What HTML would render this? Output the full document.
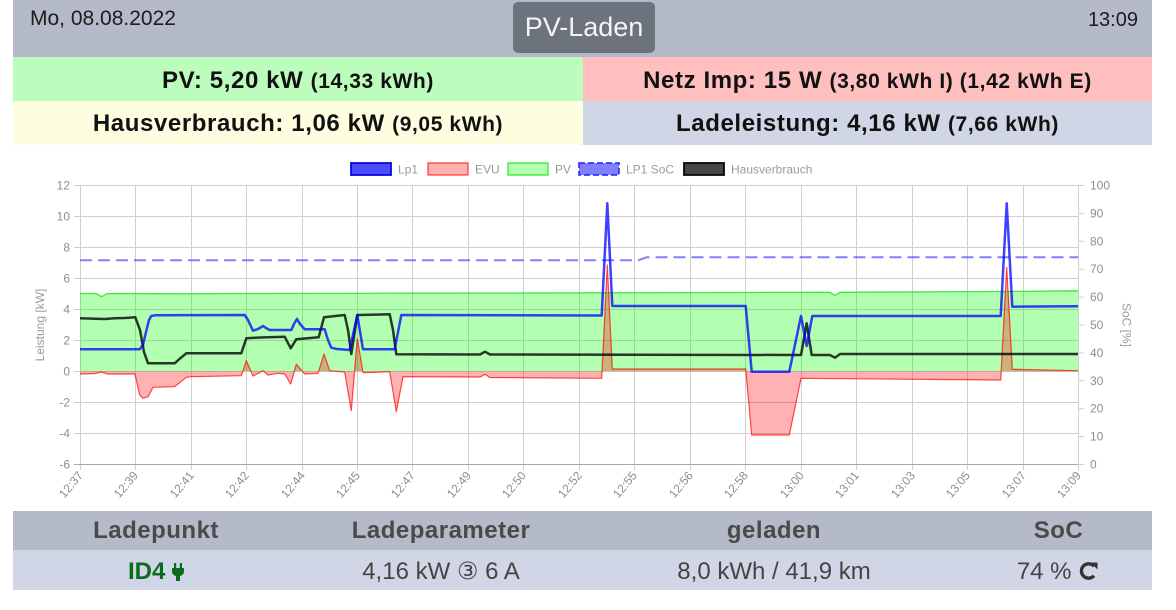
<!DOCTYPE html>
<html><head><meta charset="utf-8"><style>
*{box-sizing:border-box}
html,body{margin:0;padding:0;background:#fff}
body{width:1176px;height:610px;position:relative;overflow:hidden;font-family:"Liberation Sans","DejaVu Sans","Noto Sans CJK JP",sans-serif}
.a{position:absolute;white-space:nowrap}
.c{text-align:center}
.b{font-weight:bold;color:#111;font-size:24px;line-height:44px;letter-spacing:0.6px}
.b span{font-size:21px}
.th{font-weight:bold;color:#4a4a4a;font-size:24px;line-height:40px;letter-spacing:0.5px}
.td{color:#444;font-size:24px;line-height:40px}
</style></head><body>
<div class="a" style="left:13px;top:0;width:1139px;height:57px;background:#b5bac8"></div>
<div class="a" style="left:30px;top:5px;font-size:21px;line-height:28px;color:#1c1c1c">Mo, 08.08.2022</div>
<div class="a" style="right:38px;top:6px;font-size:20px;line-height:28px;color:#1c1c1c">13:09</div>
<div class="a c" style="left:513px;top:2px;width:142px;height:51px;line-height:51px;background:#6c737d;border-radius:5px;color:#f4f4f4;font-size:27px">PV-Laden</div>

<div class="a" style="left:13px;top:57px;width:570px;height:44px;background:#bcfcbc"></div>
<div class="a" style="left:583px;top:57px;width:569px;height:44px;background:#ffbfbf"></div>
<div class="a" style="left:13px;top:101px;width:570px;height:44px;background:#fdfde0"></div>
<div class="a" style="left:583px;top:101px;width:569px;height:44px;background:#d0d6e6"></div>
<div class="a c b" style="left:13px;top:59px;width:570px">PV: 5,20 kW <span>(14,33 kWh)</span></div>
<div class="a c b" style="left:583px;top:59px;width:569px">Netz Imp: 15 W <span>(3,80 kWh I) (1,42 kWh E)</span></div>
<div class="a c b" style="left:13px;top:102px;width:570px">Hausverbrauch: 1,06 kW <span>(9,05 kWh)</span></div>
<div class="a c b" style="left:583px;top:102px;width:569px">Ladeleistung: 4,16 kW <span>(7,66 kWh)</span></div>

<svg class="a" style="left:0;top:0" width="1176" height="610" xmlns="http://www.w3.org/2000/svg" font-family="Liberation Sans, Arial, sans-serif">
<!-- grid -->
<g stroke="#cfcfcf" stroke-width="1" fill="none">
<path d="M74,185.5H1078 M74,216.5H1078 M74,247.5H1078 M74,278.5H1078 M74,309.5H1078 M74,340.5H1078 M74,371.5H1078 M74,402.5H1078 M74,433.5H1078"/>
<path d="M80.5,185V470 M135.5,185V470 M191.5,185V470 M246.5,185V470 M302.5,185V470 M357.5,185V470 M412.5,185V470 M468.5,185V470 M523.5,185V470 M579.5,185V470 M634.5,185V470 M690.5,185V470 M745.5,185V470 M801.5,185V470 M856.5,185V470 M912.5,185V470 M967.5,185V470 M1023.5,185V470 M1078.5,185V470"/>
<path d="M1078,185.5h6 M1078,213.4h6 M1078,241.3h6 M1078,269.2h6 M1078,297.1h6 M1078,325h6 M1078,352.9h6 M1078,380.8h6 M1078,408.7h6 M1078,436.6h6 M1078,464.5h6"/>
</g>
<path d="M74,464.5H1078" stroke="#a8a8a8" stroke-width="1"/>
<!-- PV fill -->
<path d="M80,371.3 L80,293.5 96,293.5 101.7,296.7 107,293.5 180,293.8 240,293.5 420,293.2 600,292.8 745,292.5 830,292.3 835,295.5 840,292.3 1000,291.5 1078,290.8 L1078,371.3Z" fill="rgba(0,255,0,0.3)"/>
<!-- EVU fill -->
<path d="M80,371.3 L80,374 95,373.5 101.3,372 108,374 135,374 139.7,395 143,398.3 148,396.7 153,387.3 174.7,386.7 186.3,377.3 191.3,376.7 241.3,375.7 246.3,360.7 253,376 263,370.7 268,375 278,373.3 284.7,374 290.7,384 296.3,364.3 304.7,374 318,373.3 324,354 329.7,370.7 344.7,372 351.3,410.7 357.3,338.3 363,372.7 389.7,371.7 396.3,411.7 403,376.7 480,377 485,374.3 490,377.5 601.7,378.3 607.3,265 612.3,369 745.7,369 751.7,435 789.3,435 801,378.3 1000.7,380 1006.7,267.3 1012.3,369.3 1078,370.7 L1078,371.3Z" fill="rgba(255,0,0,0.3)"/>
<polyline fill="none" stroke="rgba(40,225,40,0.85)" stroke-width="1.3" points="80,293.5 96,293.5 101.7,296.7 107,293.5 180,293.8 240,293.5 420,293.2 600,292.8 745,292.5 830,292.3 835,295.5 840,292.3 1000,291.5 1078,290.8"/>
<polyline fill="none" stroke="rgba(255,0,0,0.7)" stroke-width="1.2" stroke-linejoin="round" points="80,374 95,373.5 101.3,372 108,374 135,374 139.7,395 143,398.3 148,396.7 153,387.3 174.7,386.7 186.3,377.3 191.3,376.7 241.3,375.7 246.3,360.7 253,376 263,370.7 268,375 278,373.3 284.7,374 290.7,384 296.3,364.3 304.7,374 318,373.3 324,354 329.7,370.7 344.7,372 351.3,410.7 357.3,338.3 363,372.7 389.7,371.7 396.3,411.7 403,376.7 480,377 485,374.3 490,377.5 601.7,378.3 607.3,265 612.3,369 745.7,369 751.7,435 789.3,435 801,378.3 1000.7,380 1006.7,267.3 1012.3,369.3 1078,370.7"/>
<!-- Hausverbrauch -->
<polyline fill="none" stroke="rgba(0,0,0,0.78)" stroke-width="2.5" stroke-linejoin="round" points="80,318.3 95,318.8 105,319 115,318.2 125,318 135.3,317.3 140,330 144,352 148,363.3 174.7,363.3 180,358.5 186.3,353.3 241.3,353.3 246.3,338.3 260,337.5 284.7,336.7 290.7,348.3 296.3,339.3 318.7,337.3 324,317.3 344.7,315 348,330 351.3,354 357.3,315 389.7,314.3 393,330 396.3,354.3 480,354.5 485,351.7 490,354.5 801,355 806.7,323.3 811.7,355 830,355 835,357.7 840,354 1078,354"/>
<!-- SoC -->
<path d="M80,260.3H638L646.7,257.3H1078" fill="none" stroke="rgba(60,60,255,0.65)" stroke-width="2" stroke-dasharray="12,6"/>
<!-- Lp1 -->
<polyline fill="none" stroke="rgba(0,0,255,0.75)" stroke-width="2.5" stroke-linejoin="round" points="80,349.3 139.7,349.3 143,345 146,332 149,320 151.3,316 155,315.3 244.7,315 248,320 253,330.7 258,329 263,326 266,328 269.7,330 291.3,330 294,324 297,319 300,324 304.7,329.3 324.7,329.3 328,340 331.3,347.7 337,349 349.7,350 357.3,315 363,349.3 394.7,349.3 401.3,315 601.7,315.5 607.3,203.3 612.3,306 745.7,306 751.7,371.7 789.3,371.7 801,316 806.7,346 812.3,316 1000.7,316 1006.7,203.3 1012.3,306.7 1078,306.3"/>

<!-- legend -->
<rect x="351" y="163" width="40" height="12" fill="rgba(0,0,255,0.7)" stroke="rgba(0,0,220,0.85)" stroke-width="2"/>
<rect x="428" y="163" width="40" height="12" fill="rgba(255,0,0,0.3)" stroke="rgba(255,0,0,0.7)" stroke-width="1.3"/>
<rect x="508" y="163" width="40" height="12" fill="rgba(0,255,0,0.3)" stroke="rgba(40,225,40,0.9)" stroke-width="1.3"/>
<rect x="579" y="163" width="40" height="12" fill="rgba(0,0,255,0.5)" stroke="rgba(40,40,255,0.8)" stroke-width="2" stroke-dasharray="6,3"/>
<rect x="684" y="163" width="40" height="12" fill="rgba(0,0,0,0.72)" stroke="rgba(0,0,0,0.85)" stroke-width="2"/>
<g font-size="12" fill="#9a9a9a">
<text x="398" y="173.5">Lp1</text>
<text x="475" y="173.5">EVU</text>
<text x="555" y="173.5">PV</text>
<text x="626" y="173.5">LP1 SoC</text>
<text x="731" y="173.5">Hausverbrauch</text>
</g>

<!-- left axis -->
<g font-size="12" fill="#8e8e8e" text-anchor="end">
<text x="70" y="189.5">12</text>
<text x="70" y="220.5">10</text>
<text x="70" y="251.5">8</text>
<text x="70" y="282.5">6</text>
<text x="70" y="313.5">4</text>
<text x="70" y="344.5">2</text>
<text x="70" y="375.5">0</text>
<text x="70" y="406.5">-2</text>
<text x="70" y="437.5">-4</text>
<text x="70" y="468.5">-6</text>
</g>
<text transform="translate(44,325) rotate(-90)" text-anchor="middle" font-size="12" fill="#9a9a9a">Leistung [kW]</text>

<!-- right axis -->
<g font-size="12" fill="#8e8e8e">
<text x="1090" y="189.5">100</text>
<text x="1090" y="217.4">90</text>
<text x="1090" y="245.3">80</text>
<text x="1090" y="273.2">70</text>
<text x="1090" y="301.1">60</text>
<text x="1090" y="329">50</text>
<text x="1090" y="356.9">40</text>
<text x="1090" y="384.8">30</text>
<text x="1090" y="412.7">20</text>
<text x="1090" y="440.6">10</text>
<text x="1090" y="468.5">0</text>
</g>
<text transform="translate(1122.5,325) rotate(90)" text-anchor="middle" font-size="12" fill="#9a9a9a">SoC [%]</text>

<!-- x axis labels -->
<g font-size="12" fill="#8e8e8e" text-anchor="end">
<text transform="translate(80.5,473) rotate(-50)" dy="0.35em">12:37</text>
<text transform="translate(135.5,473) rotate(-50)" dy="0.35em">12:39</text>
<text transform="translate(191.5,473) rotate(-50)" dy="0.35em">12:41</text>
<text transform="translate(246.5,473) rotate(-50)" dy="0.35em">12:42</text>
<text transform="translate(302.5,473) rotate(-50)" dy="0.35em">12:44</text>
<text transform="translate(357.5,473) rotate(-50)" dy="0.35em">12:45</text>
<text transform="translate(412.5,473) rotate(-50)" dy="0.35em">12:47</text>
<text transform="translate(468.5,473) rotate(-50)" dy="0.35em">12:49</text>
<text transform="translate(523.5,473) rotate(-50)" dy="0.35em">12:50</text>
<text transform="translate(579.5,473) rotate(-50)" dy="0.35em">12:52</text>
<text transform="translate(634.5,473) rotate(-50)" dy="0.35em">12:55</text>
<text transform="translate(690.5,473) rotate(-50)" dy="0.35em">12:56</text>
<text transform="translate(745.5,473) rotate(-50)" dy="0.35em">12:58</text>
<text transform="translate(801.5,473) rotate(-50)" dy="0.35em">13:00</text>
<text transform="translate(856.5,473) rotate(-50)" dy="0.35em">13:01</text>
<text transform="translate(912.5,473) rotate(-50)" dy="0.35em">13:03</text>
<text transform="translate(967.5,473) rotate(-50)" dy="0.35em">13:05</text>
<text transform="translate(1023.5,473) rotate(-50)" dy="0.35em">13:07</text>
<text transform="translate(1078.5,473) rotate(-50)" dy="0.35em">13:09</text>
</g>
</svg>

<!-- bottom table -->
<div class="a" style="left:13px;top:511px;width:1139px;height:40px;background:#b5bac8"></div>
<div class="a" style="left:13px;top:550px;width:1139px;height:40px;background:#d0d6e6"></div>
<div class="a c th" style="left:13px;top:511px;width:286px">Ladepunkt</div>
<div class="a c th" style="left:299px;top:511px;width:284px">Ladeparameter</div>
<div class="a c th" style="left:583px;top:511px;width:382px">geladen</div>
<div class="a c th" style="left:965px;top:511px;width:187px">SoC</div>

<div class="a c td" style="left:13px;top:552px;width:286px;color:#0b6b1e;font-weight:bold">ID4 <svg width="12" height="18" viewBox="0 0 12 18" style="vertical-align:-2px"><rect x="2" y="0" width="2.2" height="5" fill="#0b6b1e"/><rect x="7.8" y="0" width="2.2" height="5" fill="#0b6b1e"/><path d="M0 5H12V8Q12 12 8 13V18H4V13Q0 12 0 8Z" fill="#0b6b1e"/></svg></div>
<div class="a c td" style="left:299px;top:552px;width:284px">4,16 kW ③ 6 A</div>
<div class="a c td" style="left:583px;top:552px;width:382px">8,0 kWh / 41,9 km</div>
<div class="a c td" style="left:965px;top:552px;width:187px">74 % <svg width="22" height="20" viewBox="0 0 22 20" style="vertical-align:-2px"><path d="M16,5.2 A7.2,7.2 0 1 0 16,14.8" fill="none" stroke="#333" stroke-width="3.4"/><path d="M12.5,1.5 L19.5,1.5 L19.5,8.5Z" fill="#333"/></svg></div>
</body></html>
